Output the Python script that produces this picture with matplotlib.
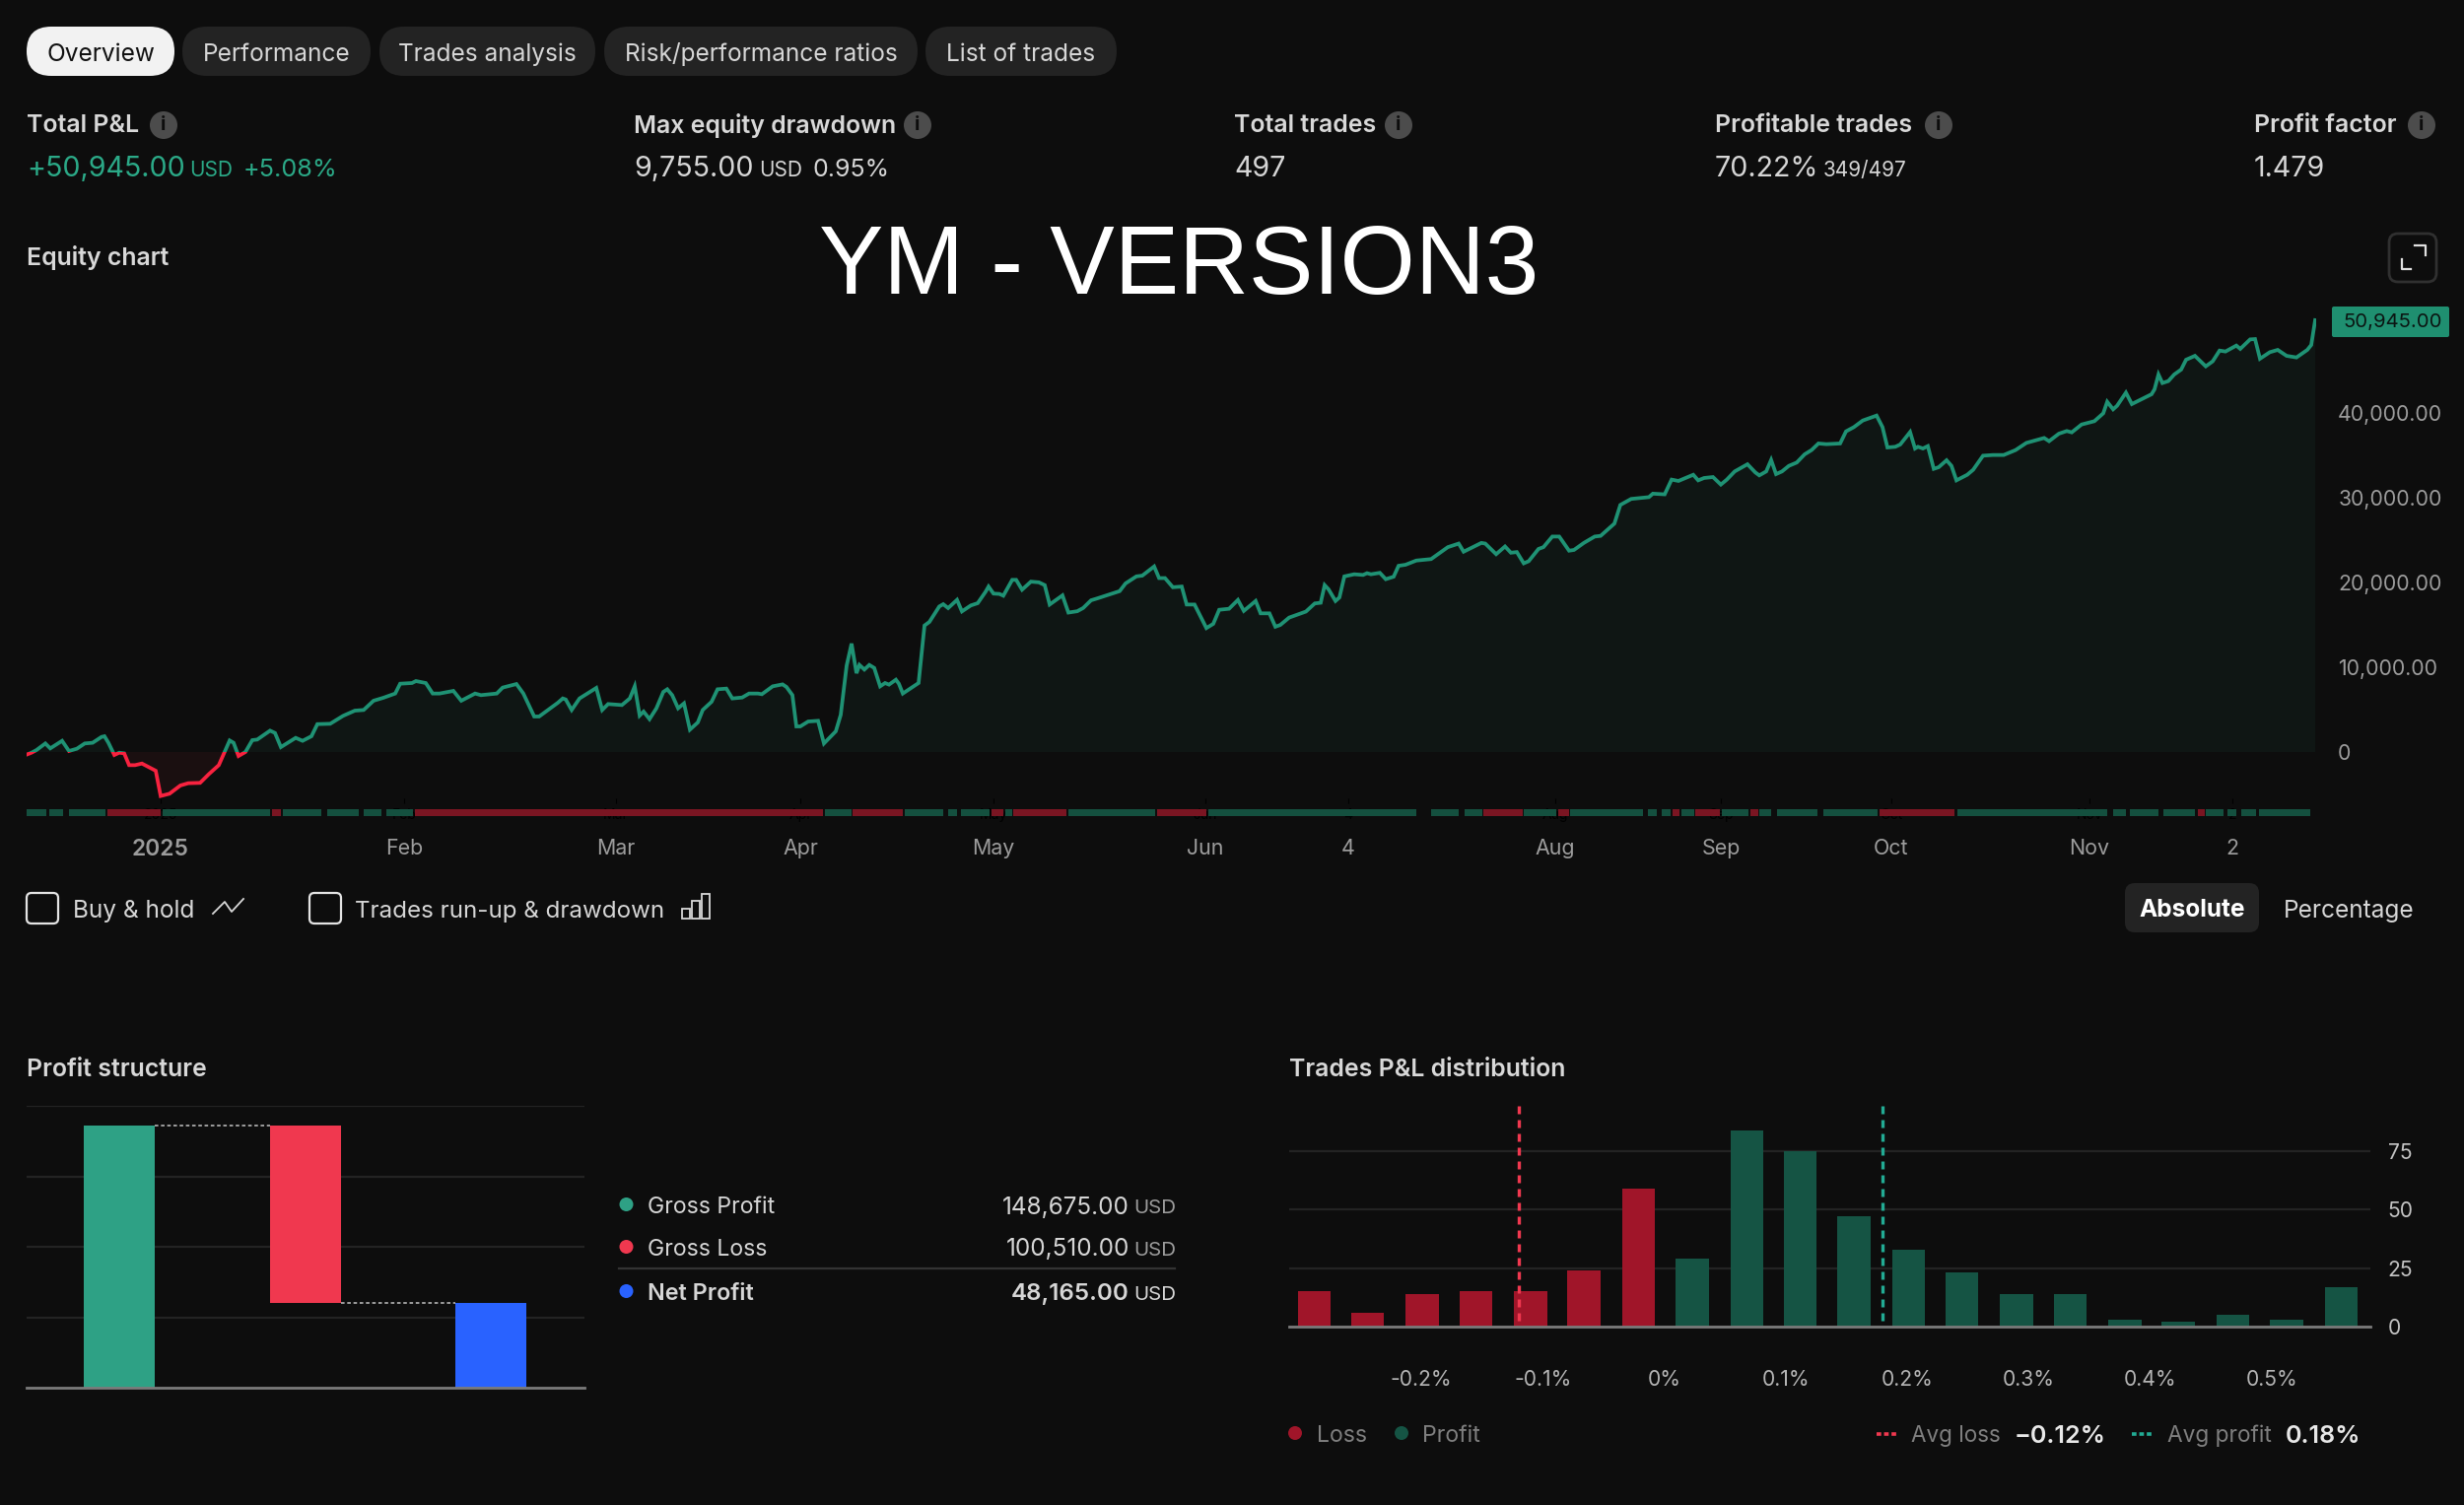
#!/usr/bin/env python3
"""Strategy report overview: equity curve, profit structure and P&L distribution."""

import matplotlib

matplotlib.use("Agg")
import matplotlib.pyplot as plt
from matplotlib.patches import Circle, FancyBboxPatch, Rectangle
import numpy as np

W, H = 2500, 1527
BG = "#0d0d0d"
GREEN_LINE = "#1f9274"
RED_LINE = "#f7223f"
GREEN_BAR = "#2ea185"
RED_BAR = "#f0384f"
BLUE_BAR = "#2962ff"
DARK_GREEN = "#155444"
DARK_RED = "#a01529"
TEXT = "#d6d6d6"
MUTED = "#9c9c9c"
GRID = "#232323"
BASE = "#7a7a7a"

# equity curve: position along the time axis, equity in USD
equity_pos = [
    0, 5, 10, 19, 24, 36, 43, 51, 59, 67, 76, 79, 83, 89, 94, 99, 104, 110, 117, 131,
    136, 145, 156, 164, 176, 185, 195, 206, 210, 215, 222, 229, 234, 247, 252, 258, 273, 280, 289, 295,
    308, 321, 333, 342, 352, 362, 374, 379, 391, 395, 405, 412, 419, 433, 441, 455, 461, 477, 483, 497,
    504, 515, 520, 539, 544, 547, 553, 561, 578, 584, 590, 604, 612, 617, 622, 626, 632, 639, 646, 650,
    655, 661, 667, 673, 681, 686, 695, 701, 710, 716, 726, 733, 742, 746, 757, 767, 771, 777, 781, 785,
    793, 803, 809, 821, 826, 832, 837, 842, 845, 850, 855, 860, 866, 871, 875, 882, 885, 889, 905, 911,
    916, 926, 930, 935, 944, 949, 958, 965, 973, 976, 981, 987, 991, 1000, 1004, 1010, 1019, 1027, 1033, 1038,
    1051, 1057, 1066, 1072, 1080, 1086, 1097, 1109, 1115, 1126, 1132, 1144, 1149, 1155, 1163, 1172, 1177, 1185, 1197, 1204,
    1210, 1220, 1229, 1235, 1247, 1252, 1261, 1267, 1272, 1281, 1298, 1307, 1313, 1317, 1321, 1328, 1332, 1337, 1347, 1356,
    1360, 1364, 1373, 1379, 1387, 1392, 1399, 1410, 1425, 1433, 1442, 1453, 1458, 1476, 1480, 1491, 1500, 1506, 1512, 1519,
    1524, 1534, 1539, 1548, 1555, 1565, 1570, 1580, 1591, 1597, 1611, 1617, 1628, 1646, 1650, 1662, 1669, 1676, 1691, 1696,
    1702, 1711, 1719, 1725, 1733, 1746, 1754, 1758, 1765, 1770, 1775, 1781, 1788, 1796, 1804, 1811, 1818, 1826, 1840, 1846,
    1854, 1863, 1877, 1883, 1888, 1896, 1901, 1911, 1916, 1919, 1924, 1929, 1935, 1940, 1948, 1953, 1958, 1969, 1975, 1985,
    1995, 2006, 2018, 2029, 2047, 2052, 2062, 2070, 2075, 2085, 2098, 2107, 2111, 2117, 2121, 2130, 2136, 2156, 2159, 2163,
    2167, 2173, 2179, 2186, 2191, 2200, 2211, 2218, 2225, 2231, 2242, 2246, 2256, 2261, 2266, 2276, 2284, 2293, 2303, 2314,
    2318, 2322,
]
equity_usd = [
    -310, -80, 230, 1010, 430, 1320, 120, 390, 1010, 1090, 1780, 1860, 1090, -350, -80, -160, -1550, -1550, -1360, -2210,
    -5190, -4920, -3950, -3680, -3640, -2600, -1550, 1360, 1090, -470, 0, 1400, 1470, 2520, 2250, 580, 1670, 1320, 1860, 3290,
    3330, 4260, 4880, 4960, 6050, 6400, 6900, 8060, 8140, 8370, 8140, 6900, 6900, 7210, 6050, 6900, 6710, 6900, 7600, 8020,
    6900, 4190, 4190, 5810, 6320, 6200, 4960, 6320, 7560, 4960, 5660, 5540, 6320, 7750, 4300, 4770, 3880, 5160, 7090, 7400,
    6710, 5160, 5740, 2640, 3490, 4960, 5930, 7400, 7480, 6320, 6430, 6900, 6900, 6820, 7750, 7980, 7670, 6710, 3020, 3020,
    3600, 3680, 1010, 2440, 4380, 10190, 12790, 9300, 10270, 9730, 10270, 9920, 7750, 8140, 7950, 8530, 8060, 6900, 8140, 14920,
    15350, 17170, 17440, 16980, 17950, 16590, 17290, 17560, 18910, 19520, 18690, 18650, 18440, 20310, 20310, 19150, 20100, 20020, 19690, 17400,
    18480, 16450, 16610, 16990, 17900, 18110, 18520, 18980, 19890, 20720, 20810, 21890, 20520, 20520, 19440, 19520, 17400, 17400, 14620, 15120,
    16780, 16900, 17940, 16650, 17820, 16360, 16360, 14780, 14990, 15860, 16570, 17530, 17610, 19690, 19190, 17820, 18230, 20720, 20970, 20890,
    21100, 20970, 21140, 20390, 20680, 21970, 22090, 22590, 22760, 23420, 24170, 24590, 23630, 24670, 24590, 23340, 24250, 23510, 23590, 22260,
    22510, 23960, 24170, 25420, 25420, 23750, 23840, 24670, 25420, 25500, 26950, 29150, 29860, 30070, 30480, 30400, 32140, 31980, 32710, 32050,
    32330, 32440, 31550, 32130, 33100, 33950, 32980, 32640, 33100, 34460, 32790, 33100, 33760, 34150, 35120, 35620, 36400, 36320, 36400, 37830,
    38330, 39110, 39690, 38330, 35930, 36010, 36280, 37750, 35810, 36010, 35810, 36090, 33410, 33600, 34420, 33760, 32050, 32710, 33300, 34960,
    35040, 35040, 35620, 36470, 37050, 36670, 37560, 37870, 37710, 38640, 39030, 39960, 41320, 40430, 40850, 42400, 41050, 42210, 42790, 44540,
    43530, 43760, 44540, 45120, 46280, 46740, 45500, 46090, 47360, 47250, 47950, 47560, 48680, 48720, 46400, 47170, 47440, 46740, 46550, 47440,
    48020, 50945,
]
equity_ticks = [0, 10000, 20000, 30000, 40000]
time_tick_pos = [136, 383, 598, 785, 981, 1196, 1341, 1551, 1719, 1892, 2093, 2238]
time_tick_labels = ["2025", "Feb", "Mar", "Apr", "May", "Jun", "4", "Aug", "Sep", "Oct", "Nov", "2"]

# strip under the equity curve: start, end, new-high (1) or drawdown (0)
strip_start = [
    0, 23, 43, 82, 138, 249, 260, 305, 342, 365, 394, 810, 838, 891, 935, 948, 979, 993, 1001, 1057,
    1147, 1199, 1425, 1459, 1478, 1519, 1554, 1566, 1645, 1659, 1670, 1679, 1693, 1720, 1749, 1758, 1776, 1823, 1880, 1959,
    2117, 2134, 2168, 2203, 2211, 2233, 2247, 2265,
]
strip_end = [
    20, 37, 80, 136, 247, 258, 299, 337, 360, 392, 808, 837, 889, 930, 944, 977, 991, 1000, 1055, 1145,
    1197, 1410, 1453, 1477, 1518, 1552, 1565, 1640, 1654, 1668, 1677, 1692, 1718, 1747, 1757, 1770, 1817, 1878, 1956, 2111,
    2130, 2163, 2200, 2210, 2229, 2242, 2262, 2317,
]
strip_gain = [
    1, 1, 1, 0, 1, 0, 1, 1, 1, 1, 0, 1, 0, 1, 1, 1, 0, 1, 0, 1,
    0, 1, 1, 1, 0, 1, 0, 1, 1, 1, 0, 1, 0, 1, 0, 1, 1, 1, 0, 1,
    1, 1, 1, 0, 1, 1, 1, 1,
]

# profit structure
structure_labels = ["Gross Profit", "Gross Loss", "Net Profit"]
structure_values = [148675.00, 100510.00, 48165.00]
structure_ticks = [40000, 80000, 120000, 160000]

# trades P&L distribution
bin_centers = [
    -0.288, -0.244, -0.199, -0.155, -0.110, -0.066, -0.021, 0.023, 0.068, 0.112,
    0.156, 0.201, 0.245, 0.290, 0.334, 0.379, 0.423, 0.468, 0.512, 0.557,
]
bin_counts = [15, 6, 14, 15, 15, 24, 59, 29, 84, 75, 47, 33, 23, 14, 14, 3, 2, 5, 3, 17]
bin_is_loss = [1, 1, 1, 1, 1, 1, 1, 0, 0, 0, 0, 0, 0, 0, 0, 0, 0, 0, 0, 0]
avg_loss, avg_profit = -0.12, 0.18
dist_yticks = [0, 25, 50, 75]
dist_xticks = [-0.2, -0.1, 0, 0.1, 0.2, 0.3, 0.4, 0.5]
dist_xlabels = ["-0.2%", "-0.1%", "0%", "0.1%", "0.2%", "0.3%", "0.4%", "0.5%"]

tab_labels = ["Overview", "Performance", "Trades analysis", "Risk/performance ratios", "List of trades"]
tab_lefts = [27, 185, 385, 613, 939]
tab_rights = [177, 376, 604, 931, 1133]


def px_axes(fig, left, top, right, bottom, **kwargs):
    ax = fig.add_axes([left / W, 1 - bottom / H, (right - left) / W, (bottom - top) / H], **kwargs)
    ax.set_facecolor("none")
    for spine in ax.spines.values():
        spine.set_visible(False)
    return ax


def pill(ui, left, top, right, bottom, radius, face, edge="none", lw=0):
    ui.add_patch(FancyBboxPatch(
        (left + radius, top + radius), right - left - 2 * radius, bottom - top - 2 * radius,
        boxstyle=f"round,pad={radius},rounding_size={radius}", fc=face, ec=edge, lw=lw,
    ))


def label(ui, x, y, text, size=17.6, color=TEXT, ha="left", va="center", weight="normal", **kwargs):
    # Inter sits a little high when centred, so nudge centred text down
    if va == "center":
        y += 3
    ui.text(x, y, text, fontsize=size, color=color, ha=ha, va=va, fontweight=weight, **kwargs)


def heading(ui, x, y, text):
    label(ui, x, y, text, size=17.9, weight="semibold", color="#d8d8d8")


def info_icon(ui, x, y):
    ui.add_patch(Circle((x, y), 14, fc="#4c4c4c", ec="none"))
    ui.text(x, y + 0.5, "i", fontsize=14, color="#0d0d0d", ha="center", va="center", fontweight="bold")


def draw_header(ui):
    for i, (text, left, right) in enumerate(zip(tab_labels, tab_lefts, tab_rights)):
        active = i == 0
        pill(ui, left, 27, right, 77, 25, "#f2f2f2" if active else "#232323")
        label(ui, (left + right) / 2, 52, text, color="#111111" if active else TEXT, ha="center")

    heads = [
        (27, "Total P&L", 166), (643, "Max equity drawdown", 931), (1252, "Total trades", 1419),
        (1740, "Profitable trades", 1967), (2287, "Profit factor", 2457),
    ]
    for x, text, icon_x in heads:
        heading(ui, x, 125, text)
        info_icon(ui, icon_x, 127)

    base = 179
    label(ui, 27, base, "+50,945.00", size=20.6, color="#2ba987", va="baseline")
    label(ui, 192, base, "USD", size=15, color="#2ba987", va="baseline")
    label(ui, 247, base, "+5.08%", size=18.2, color="#2ba987", va="baseline")
    label(ui, 643, base, "9,755.00", size=20.6, va="baseline")
    label(ui, 770, base, "USD", size=15, va="baseline")
    label(ui, 824, base, "0.95%", size=18, va="baseline")
    label(ui, 1252, base, "497", size=20.6, va="baseline")
    label(ui, 1740, base, "70.22%", size=20.6, va="baseline")
    label(ui, 1850, base, "349/497", size=14.9, va="baseline")
    label(ui, 2287, base, "1.479", size=20.6, va="baseline")

    heading(ui, 27, 259, "Equity chart")
    ui.text(1196, 298, "YM - VERSION3", fontsize=70.7, color="white", ha="center", va="baseline",
            family="Liberation Sans")

    pill(ui, 2424, 237, 2472, 286, 9, "none", "#303030", 2)
    ui.plot([2450, 2461, 2461], [249, 249, 259], color="#e0e0e0", lw=1.6)
    ui.plot([2437, 2437, 2446], [263, 273, 273], color="#e0e0e0", lw=1.6)


def draw_equity(fig):
    pos = np.array(equity_pos)
    usd = np.array(equity_usd)
    ax = px_axes(fig, 27, 300, 2350, 810)
    ax.set_xlim(0, 2323)
    ax.set_ylim(-5465, 53837)

    ax.fill_between(pos, usd, 0, where=usd >= 0, interpolate=True, color="#0f1614", lw=0)
    ax.fill_between(pos, usd, 0, where=usd <= 0, interpolate=True, color="#1a0f10", lw=0)
    up, = ax.plot(pos, usd, color=GREEN_LINE, lw=2.7, solid_joinstyle="miter")
    down, = ax.plot(pos, usd, color=RED_LINE, lw=2.7, solid_joinstyle="miter")
    up.set_clip_path(Rectangle((0, 0), 2323, 53837, transform=ax.transData))
    down.set_clip_path(Rectangle((0, -5465), 2323, 5465, transform=ax.transData))

    ax.yaxis.tick_right()
    ax.set_yticks(equity_ticks, labels=["0" if v == 0 else f"{v:,.2f}" for v in equity_ticks])
    ax.tick_params(axis="y", length=0, pad=16, labelsize=15.3, labelcolor=MUTED)
    ax.set_xticks([])

    strip = px_axes(fig, 27, 821, 2350, 828, sharex=ax)
    strip.set_ylim(0, 1)
    strip.set_yticks([])
    for start, end, gain in zip(strip_start, strip_end, strip_gain):
        strip.broken_barh([(start, end - start)], (0, 1), color="#14503f" if gain else "#7a1522", lw=0)
    strip.set_xticks(time_tick_pos, labels=time_tick_labels)
    strip.tick_params(axis="x", length=0, pad=16.5, labelsize=15.4, labelcolor=MUTED)
    first = strip.get_xticklabels()[0]
    first.set_fontweight("semibold")
    first.set_fontsize(16.4)


def draw_controls(ui):
    pill(ui, 27, 906, 59, 937, 5, "none", "#e4e4e4", 1.6)
    label(ui, 74, 922, "Buy & hold")
    ui.plot([216, 228, 235, 247], [927, 915, 925, 912], color="#d8d8d8", lw=1.3)
    pill(ui, 314, 906, 346, 937, 5, "none", "#e4e4e4", 1.6)
    label(ui, 360, 922, "Trades run-up & drawdown", size=17.4)
    for left, top in [(692, 922), (702, 914), (712, 907)]:
        ui.add_patch(Rectangle((left, top), 8, 932 - top, fc="none", ec="#d8d8d8", lw=1.3))

    pill(ui, 2156, 896, 2292, 946, 10, "#232323")
    label(ui, 2224, 921, "Absolute", color="white", ha="center", weight="bold")
    label(ui, 2383, 921, "Percentage", ha="center")


def draw_structure(fig, ui):
    heading(ui, 27, 1083, "Profit structure")
    ax = px_axes(fig, 27, 1122, 592.5, 1408)
    ax.set_xlim(-0.5, 2.5)
    ax.set_ylim(0, 160000)
    ax.set_xticks([])
    ax.set_yticks(structure_ticks, labels=[])
    ax.tick_params(length=0)
    ax.grid(axis="y", color=GRID, lw=1.6, zorder=0)
    ax.set_axisbelow(True)

    gross, loss, net = structure_values
    width = 0.382
    ax.bar(0, gross, width, color=GREEN_BAR, zorder=2)
    ax.bar(1, loss, width, bottom=gross - loss, color=RED_BAR, zorder=2)
    ax.bar(2, net, width, color=BLUE_BAR, zorder=2)
    ax.plot([width / 2, 1 - width / 2], [gross, gross], color="#a8a8a8", lw=1.3, ls=(0, (2, 1.5)), zorder=3)
    ax.plot([1 + width / 2, 2 - width / 2], [net, net], color="#a8a8a8", lw=1.3, ls=(0, (2, 1.5)), zorder=3)
    ax.axhline(0, color=BASE, lw=2, clip_on=False, zorder=4)

    colors = [GREEN_BAR, RED_BAR, BLUE_BAR]
    rows = [1222, 1265, 1310]
    for text, value, color, y in zip(structure_labels, structure_values, colors, rows):
        is_net = text == "Net Profit"
        weight = "semibold" if is_net else "normal"
        ui.add_patch(Circle((635.5, y), 7, fc=color, ec="none"))
        label(ui, 657, y, text, size=16.8 if is_net else 16.6, weight=weight)
        label(ui, 1146, y, f"{value:,.2f}", size=17.4 if is_net else 17.5, ha="right", weight=weight)
        label(ui, 1150, y + 1, "USD", size=14.8, color=TEXT if is_net else MUTED)
    ui.plot([628, 1192], [1287, 1287], color="#333333", lw=1.6)


def draw_distribution(fig, ui):
    heading(ui, 1308, 1083, "Trades P&L distribution")
    ax = px_axes(fig, 1308, 1122, 2404.5, 1346)
    ax.set_xlim(-0.3086, 0.5807)
    ax.set_ylim(0, 94.4)
    ax.yaxis.tick_right()
    ax.set_yticks(dist_yticks, labels=[str(v) for v in dist_yticks])
    ax.set_xticks(dist_xticks, labels=dist_xlabels)
    ax.tick_params(axis="y", length=0, pad=13, labelsize=15.2, labelcolor="#c4c4c4")
    ax.tick_params(axis="x", length=0, pad=32, labelsize=15.2, labelcolor="#b4b4b4")
    ax.grid(axis="y", color=GRID, lw=1.6, zorder=0)
    ax.set_axisbelow(True)

    colors = [DARK_RED if is_loss else DARK_GREEN for is_loss in bin_is_loss]
    ax.bar(bin_centers, bin_counts, 0.0272, color=colors, zorder=2)
    # drawn top down so the dash pattern starts at the top edge
    ax.plot([avg_loss, avg_loss], [94.4, 1], color=RED_BAR, lw=2.4, ls=(0, (2.4, 1.8)), zorder=3)
    ax.plot([avg_profit, avg_profit], [94.4, 1], color="#22ab94", lw=2.4, ls=(0, (2.4, 1.8)), zorder=3)
    ax.axhline(0, color=BASE, lw=2, clip_on=False, zorder=4)

    ui.add_patch(Circle((1314, 1454), 7, fc=DARK_RED, ec="none"))
    label(ui, 1336, 1454, "Loss", size=16.6, color="#7f7f7f")
    ui.add_patch(Circle((1422, 1454), 7, fc=DARK_GREEN, ec="none"))
    label(ui, 1443, 1454, "Profit", size=16.6, color="#7f7f7f")
    ui.plot([1904, 1926], [1455, 1455], color=RED_BAR, lw=2.6, ls=(0, (1.3, 0.8)))
    label(ui, 1939, 1454, "Avg loss", size=16.2, color="#7f7f7f")
    label(ui, 2044, 1454, f"\u2212{abs(avg_loss):.2f}%", size=18.1, color="#e8e8e8", weight="semibold")
    ui.plot([2163, 2185], [1455, 1455], color="#22ab94", lw=2.6, ls=(0, (1.3, 0.8)))
    label(ui, 2199, 1454, "Avg profit", size=16.3, color="#7f7f7f")
    label(ui, 2319, 1454, f"{avg_profit:.2f}%", size=18.1, color="#e8e8e8", weight="semibold")


def main():
    plt.rcParams["font.family"] = ["Inter", "DejaVu Sans"]
    fig = plt.figure(figsize=(W / 100, H / 100), dpi=100, facecolor=BG)
    ui = fig.add_axes([0, 0, 1, 1])
    ui.set_xlim(0, W)
    ui.set_ylim(H, 0)
    ui.axis("off")

    draw_header(ui)
    draw_equity(fig)
    draw_controls(ui)
    draw_structure(fig, ui)
    draw_distribution(fig, ui)

    # price badge sits over the axis labels
    ui.set_zorder(5)
    ui.add_patch(FancyBboxPatch((2368, 313), 115, 27, boxstyle="round,pad=2,rounding_size=2", fc="#1f8f70", ec="none"))
    ui.text(2478, 327, f"{equity_usd[-1]:,.2f}", fontsize=14.6, color="#0b1512", ha="right", va="center")

    fig.savefig("out.png", dpi=100, facecolor=BG)
    plt.close(fig)


if __name__ == "__main__":
    main()
